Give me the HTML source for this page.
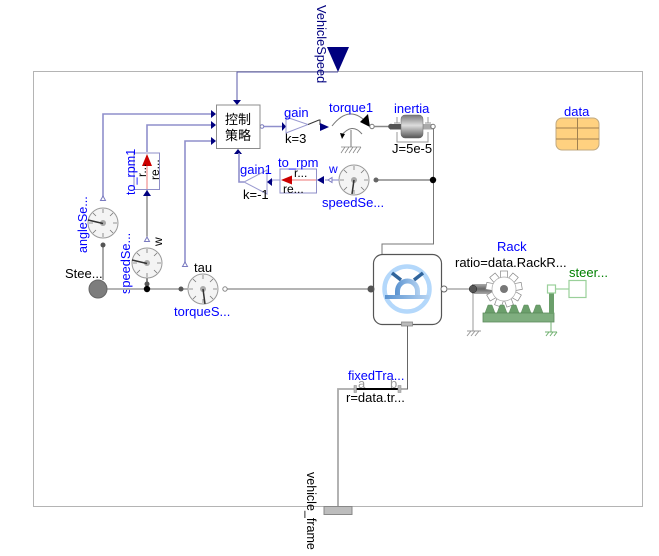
<!DOCTYPE html>
<html><head><meta charset="utf-8"><style>
html,body{margin:0;padding:0;background:#fff}
svg{display:block}
text{font-family:"Liberation Sans","Noto Sans CJK SC",sans-serif;font-size:13px}
.b{fill:#0000ff}.k{fill:#000}
</style></head><body>
<svg width="659" height="556" viewBox="0 0 659 556" xmlns="http://www.w3.org/2000/svg">
<defs>
<linearGradient id="cyl" x1="0" y1="0" x2="0" y2="1"><stop offset="0" stop-color="#aaa"/><stop offset=".5" stop-color="#666"/><stop offset="1" stop-color="#aaa"/></linearGradient>
<linearGradient id="jg" x1="0" y1="0" x2="0" y2="1"><stop offset="0" stop-color="#777"/><stop offset=".45" stop-color="#ddd"/><stop offset="1" stop-color="#555"/></linearGradient>
<linearGradient id="hub" x1="0" y1="0" x2="1" y2="0"><stop offset="0" stop-color="#5b93d0"/><stop offset="1" stop-color="#b5d3f2"/></linearGradient>
<g id="dial">
<circle r="15" fill="#f4f4f4" stroke="#999" stroke-width="1"/>
<g stroke="#777" stroke-width=".8"><path d="M-14 0H-10M-10 -10L-7 -7M0 -14V-10M10 -10L7 -7M14 0H10M-10 10L-7 7M10 10L7 7M0 14V10"/></g>
<circle r="3" fill="#aaa"/>
</g>
</defs>
<rect x="33.5" y="71.5" width="609" height="435" fill="none" stroke="#b4b4b4"/>

<!-- VehicleSpeed -->
<path d="M338 72H237V100" fill="none" stroke="#5a5aa8" stroke-width="1"/>
<path d="M327 47H349L338 72Z" fill="#00007f"/>
<path d="M233 100H241L237 105Z" fill="#00007f"/>
<text transform="translate(317,5) rotate(90)" fill="#00007f" style="font-size:12.800px">VehicleSpeed</text>

<!-- signal lines -->
<g fill="none" stroke="#8f8fcc" stroke-width="1.600">
<path d="M103 200V114H212"/>
<path d="M147 152V125H212"/>
<path d="M185 266V141H212"/>
<path d="M260 126.500H282"/>
</g>
<path d="M147 190V237" stroke="#555" stroke-width="1" fill="none"/>
<g fill="#00007f">
<path d="M211 110L216 114L211 118Z"/><path d="M211 121L216 125L211 129Z"/><path d="M211 137L216 141L211 145Z"/>
<path d="M234 154L238 149L242 154Z"/>
<path d="M143 196H151L147 190Z"/>
<path d="M282 122L286 126.500L282 131Z"/>
</g>
<g fill="#fff" stroke="#7a7ac0" stroke-width="1">
<path d="M100.500 200.500L103 196L105.500 200.500Z"/>
<path d="M144.500 241.500L147 237L149.500 241.500Z"/>
<path d="M182.500 266.500L185 262L187.500 266.500Z"/>
<circle cx="262" cy="126.500" r="1.800"/>
</g>

<!-- control block -->
<rect x="216.500" y="105" width="43.500" height="43.500" fill="#fff" stroke="#8c8c8c" stroke-width="1"/>
<text x="238" y="124" text-anchor="middle" class="k">控制</text>
<text x="238" y="140" text-anchor="middle" class="k">策略</text>

<!-- to_rpm1 -->
<rect x="134" y="153" width="25.500" height="36.500" fill="#fff" stroke="#8f8fc8" stroke-width="1"/>
<path d="M147 189V164" stroke="#f09090" stroke-width="1.200"/>
<path d="M142 166L147 154L152 166Z" fill="#cc0000"/>
<text transform="translate(135,195) rotate(-90)" class="b" style="font-size:12.600px">to_rpm1</text>
<text transform="translate(146,177) rotate(-90)" class="k" style="font-size:12px">r...</text>
<text transform="translate(159,180) rotate(-90)" class="k" style="font-size:12px">re...</text>

<!-- sensors left -->
<path d="M103 245V280" stroke="#aaa" stroke-width="2"/>
<circle cx="103" cy="245" r="2.500" fill="#555"/>
<use href="#dial" x="103" y="223"/>
<path d="M103 223.500L88 220" stroke="#333" stroke-width="1.500"/>
<path d="M147 278V289" stroke="#888" stroke-width="2"/>
<circle cx="147" cy="284" r="2.500" fill="#555"/>
<use href="#dial" x="147" y="263"/>
<path d="M147 263.500L132 260" stroke="#333" stroke-width="1.500"/>
<use href="#dial" x="203" y="289"/>
<path d="M203 289L205 304" stroke="#333" stroke-width="1.500"/>
<text transform="translate(87,253) rotate(-90)" class="b" style="font-size:12.600px">angleSe...</text>
<text transform="translate(130,294) rotate(-90)" class="b" style="font-size:12.800px">speedSe...</text>
<text transform="translate(162,246) rotate(-90)" class="k" style="font-size:12px">w</text>
<text x="194" y="272" class="k">tau</text>
<text x="174" y="316" class="b">torqueS...</text>
<text x="65" y="278" class="k">Stee...</text>

<!-- steering shaft -->
<path d="M98 289H188M223 289H373" stroke="#aaa" stroke-width="1.800" fill="none"/>
<circle cx="98" cy="289" r="9" fill="#7d7d7d" stroke="#666"/>
<circle cx="147" cy="289" r="3.200" fill="#000"/>
<circle cx="181" cy="289" r="2.500" fill="#555"/>
<circle cx="225" cy="289" r="2.200" fill="#fff" stroke="#888"/>

<!-- gain -->
<path d="M286 117V133L308 124.500Z" fill="#fff" stroke="#9a9ad0" stroke-width="1"/>
<text x="284" y="117" class="b">gain</text>
<text x="285" y="143" class="k">k=3</text>
<path d="M308 124.500L319 120H320V125" fill="none" stroke="#333" stroke-width="1"/>
<path d="M320 123L329 127L320 131Z" fill="#00007f"/>

<!-- torque1 -->
<path d="M332 126Q350 103 368 124" fill="none" stroke="#777" stroke-width="1"/>
<path d="M360 122L368 114L370 127Z" fill="#000"/>
<path d="M341 136Q352 122 362 134" fill="none" stroke="#777" stroke-width="1"/>
<path d="M340 133L345 134L342 139Z" fill="#000"/>
<path d="M351 130V147" stroke="#777" stroke-width="1"/>
<path d="M341 147H361M341 153L345 147M345 153L349 147M349 153L353 147M353 153L357 147M357 153L361 147" stroke="#888" stroke-width=".8"/>
<text x="329" y="112" class="b">torque1</text>
<circle cx="372" cy="126.500" r="2.200" fill="#fff" stroke="#777"/>

<!-- inertia -->
<path d="M374 126.500H390" stroke="#888" stroke-width="1.500"/>
<rect x="390" y="124" width="11" height="5.500" fill="#555"/>
<circle cx="391" cy="126.500" r="2.800" fill="#555"/>
<rect x="423" y="124" width="10" height="5.500" fill="#aaa"/>
<rect x="401" y="115" width="22" height="23" rx="4" fill="url(#jg)" stroke="#666" stroke-width=".5"/>
<path d="M397 117V123M394 123H400M428 117V123M425 123H431M397 132V142H428V132" fill="none" stroke="#999" stroke-width="1"/>
<text x="394" y="113" class="b">inertia</text>
<text x="392" y="153" class="k">J=5e-5</text>
<circle cx="433" cy="126.500" r="2.200" fill="#fff" stroke="#777"/>
<path d="M433.500 129V244H382V284" fill="none" stroke="#777" stroke-width="1"/>

<!-- feedback row -->
<path d="M433 180H376" stroke="#888" stroke-width="1.500"/>
<circle cx="433" cy="180" r="3.200" fill="#000"/>
<circle cx="376" cy="180" r="2.500" fill="#666"/>
<use href="#dial" x="354" y="180"/>
<path d="M354 180L352 194" stroke="#333" stroke-width="1.500"/>
<text x="329" y="173" class="b" style="font-size:12px">w</text>
<text x="322" y="207" class="b">speedSe...</text>
<path d="M339 180H325" stroke="#9a9ad0" stroke-width="1.200"/>
<path d="M332 177.500L328 180L332 182.500Z" fill="#fff" stroke="#7a7ac0"/>
<path d="M324 176L317 180L324 184Z" fill="#00007f"/>
<rect x="280" y="169" width="36.500" height="24" fill="#fff" stroke="#8f8fc8" stroke-width="1"/>
<path d="M316 180H290" stroke="#f09090" stroke-width="1.200"/>
<path d="M292 175.500L281 180L292 184.500Z" fill="#cc0000"/>
<text x="278" y="167" class="b">to_rpm</text>
<text x="294" y="177" class="k" style="font-size:12px">r...</text>
<text x="283" y="193" class="k" style="font-size:12px">re...</text>
<path d="M267 170V194L244 182Z" fill="#fff" stroke="#9a9ad0" stroke-width="1"/>
<path d="M280 180H272V182" fill="none" stroke="#9a9ad0"/>
<path d="M272 178L267 182L272 186Z" fill="#00007f"/>
<path d="M244 182H239V153" fill="none" stroke="#8f8fcc" stroke-width="1.600"/>
<text x="240" y="174" class="b">gain1</text>
<text x="243" y="199" class="k">k=-1</text>

<!-- data -->
<rect x="556" y="118" width="43" height="32" rx="6" fill="#ffd180" stroke="#c0a980" stroke-width="1"/>
<path d="M556 128H599M556 139H599M577.500 118V150" stroke="#a08050" stroke-width="1"/>
<text x="564" y="116" class="b">data</text>

<!-- wheel block -->
<rect x="373.500" y="254.500" width="68" height="70" rx="9" fill="#fff" stroke="#555" stroke-width="1.200"/>
<circle cx="407" cy="289" r="22.500" fill="none" stroke="#b4d8fb" stroke-width="4.500"/>
<path d="M392 273L401 280M423 273L414 280" stroke="#31659c" stroke-width="3.500"/>
<path d="M395 296V291A12.500 12.500 0 0 1 420 291V296H415V291A7.500 7.500 0 0 0 400 291V296Z" fill="url(#hub)"/>
<path d="M385 295H429V299H385Z" fill="url(#hub)"/>
<rect x="401.500" y="322" width="11" height="4" fill="#bbb" stroke="#888" stroke-width=".8"/>
<circle cx="371" cy="289" r="3.500" fill="#555"/>
<circle cx="444" cy="289" r="3" fill="#fff" stroke="#666"/>
<path d="M447 289H470" stroke="#aaa" stroke-width="1.500"/>
<path d="M407.500 326V389H401" fill="none" stroke="#666" stroke-width="1"/>

<!-- Rack -->
<text x="497" y="251" class="b">Rack</text>
<text x="455" y="267" class="k">ratio=data.RackR...</text>
<text x="569" y="277" fill="#008000">steer...</text>
<rect x="472" y="284" width="22" height="10" fill="url(#cyl)"/>
<circle cx="473" cy="289" r="3.800" fill="#555" stroke="#222" stroke-width=".5"/>
<path d="M473 294V331M467 336L471 331M471 336L475 331M475 336L479 331M467 331H481" fill="none" stroke="#999" stroke-width="1"/>
<g fill="#fff" stroke="#888" stroke-width=".7">
<rect x="500.500" y="271" width="7" height="7" transform="rotate(0 504 289)"/>
<rect x="500.500" y="271" width="7" height="7" transform="rotate(40 504 289)"/>
<rect x="500.500" y="271" width="7" height="7" transform="rotate(80 504 289)"/>
<rect x="500.500" y="271" width="7" height="7" transform="rotate(120 504 289)"/>
<rect x="500.500" y="271" width="7" height="7" transform="rotate(160 504 289)"/>
<rect x="500.500" y="271" width="7" height="7" transform="rotate(200 504 289)"/>
<rect x="500.500" y="271" width="7" height="7" transform="rotate(240 504 289)"/>
<rect x="500.500" y="271" width="7" height="7" transform="rotate(280 504 289)"/>
<rect x="500.500" y="271" width="7" height="7" transform="rotate(320 504 289)"/>
<circle cx="504" cy="289" r="12" stroke="#aaa"/>
</g>
<circle cx="504" cy="289" r="4" fill="#777"/>
<path d="M485 313L488 305H492L495 313H497L500 305H504L507 313H509L512 305H516L519 313H521L524 305H528L531 313H533L536 305H540L543 313Z" fill="#6b9f6b" stroke="#5d8a5d" stroke-width=".5"/>
<rect x="483" y="313" width="71" height="9" fill="#7fae7f" stroke="#5d8a5d" stroke-width=".8"/>
<rect x="549" y="293" width="5" height="21" fill="#6b9f6b"/>
<path d="M551 322V332M545 332H557M546 336L549 332M550 336L553 332M554 336L557 332" fill="none" stroke="#70b070" stroke-width="1"/>
<rect x="547.500" y="285" width="8" height="8" fill="#fff" stroke="#9ad09a" stroke-width="1.200"/>
<path d="M556 289H569" stroke="#9ad09a" stroke-width="1.200"/>
<rect x="569" y="280.500" width="17" height="17" fill="#fff" stroke="#9ad09a" stroke-width="1.200"/>

<!-- fixed translation -->
<text x="348" y="380" class="b" style="font-size:12.800px">fixedTra...</text>
<text x="346" y="402" class="k">r=data.tr...</text>
<text x="358" y="388" fill="#999">a</text>
<text x="390" y="388" fill="#999">b</text>
<path d="M338 507V389H355" fill="none" stroke="#aaa" stroke-width="1.800"/>
<path d="M355 389H399" stroke="#000" stroke-width="2"/>
<rect x="354" y="385.500" width="2.500" height="7" fill="#bbb" stroke="#888" stroke-width=".5"/>
<rect x="398" y="385.500" width="3" height="7" fill="#bbb" stroke="#888" stroke-width=".5"/>
<rect x="324" y="506.500" width="28" height="8" fill="#bdbdbd" stroke="#888" stroke-width="1"/>
<text transform="translate(307,472) rotate(90)" class="k" style="font-size:12.500px">vehicle_frame</text>
</svg>
</body></html>
